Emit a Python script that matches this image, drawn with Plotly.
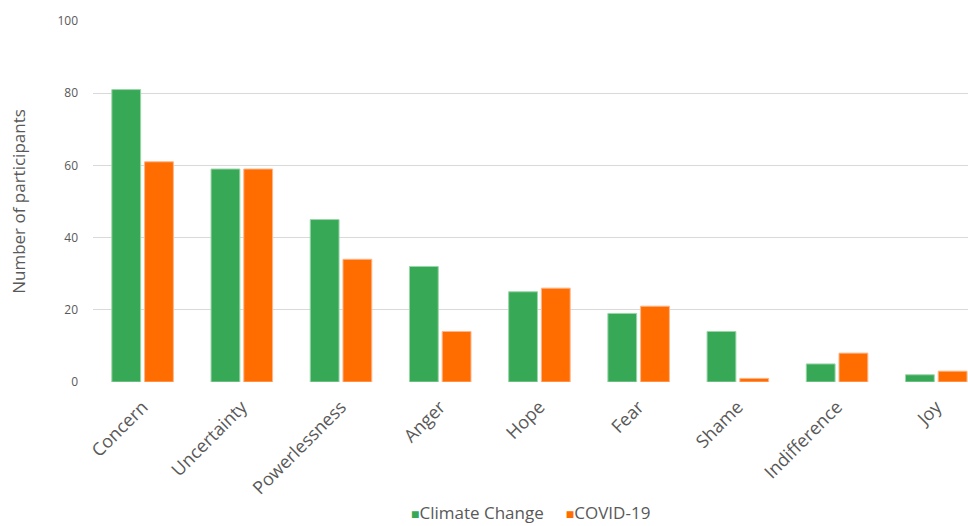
import plotly.graph_objects as go

categories = ["Concern", "Uncertainty", "Powerlessness", "Anger", "Hope", "Fear", "Shame", "Indifference", "Joy"]
climate = [81, 59, 45, 32, 25, 19, 14, 5, 2]
covid = [61, 59, 34, 14, 26, 21, 1, 8, 3]
y_ticks = [0, 20, 40, 60, 80, 100]

FONT = "Open Sans"
GREY = "#595959"
GREEN = "#37A856"
ORANGE = "#FF6D00"

fig = go.Figure()
fig.add_trace(go.Bar(name="Climate Change", x=categories, y=climate, showlegend=False,
                     marker=dict(color=GREEN, line=dict(color="#9ad6a8", width=1))))
fig.add_trace(go.Bar(name="COVID-19", x=categories, y=covid, showlegend=False,
                     marker=dict(color=ORANGE, line=dict(color="#ffb58a", width=1))))

# legend drawn as text items
fig.add_annotation(x=0.5, y=-0.362, xref="paper", yref="paper", xanchor="center", yanchor="middle",
                   showarrow=False,
                   text=(f"<span style='color:{GREEN};font-size:14px'>■</span>Climate Change"
                         f"     <span style='color:{ORANGE};font-size:14px'>■</span>COVID-19"),
                   font=dict(family=FONT, size=17, color=GREY))

fig.update_layout(
    width=968, height=526,
    margin=dict(l=93, r=0, t=21, b=144, autoexpand=False),
    paper_bgcolor="white", plot_bgcolor="white",
    barmode="group", bargap=0.34, bargroupgap=0.12,
    font=dict(family=FONT, color=GREY),
    xaxis=dict(range=[-0.5, 8.32], tickangle=-45, tickfont=dict(size=18, color=GREY),
               showgrid=False, showline=False, ticks="", automargin=False, ticklabelstandoff=10),
    yaxis=dict(range=[0, 100], tickvals=y_ticks, tickfont=dict(size=12, color=GREY),
               gridcolor="#d9d9d9", gridwidth=1, zeroline=False, showline=False,
               ticks="", ticklabelstandoff=14, automargin=False, showgrid=True,
               title=dict(text="Number of participants", font=dict(size=17, color=GREY), standoff=27)),
)
fig.write_html("out.html")
